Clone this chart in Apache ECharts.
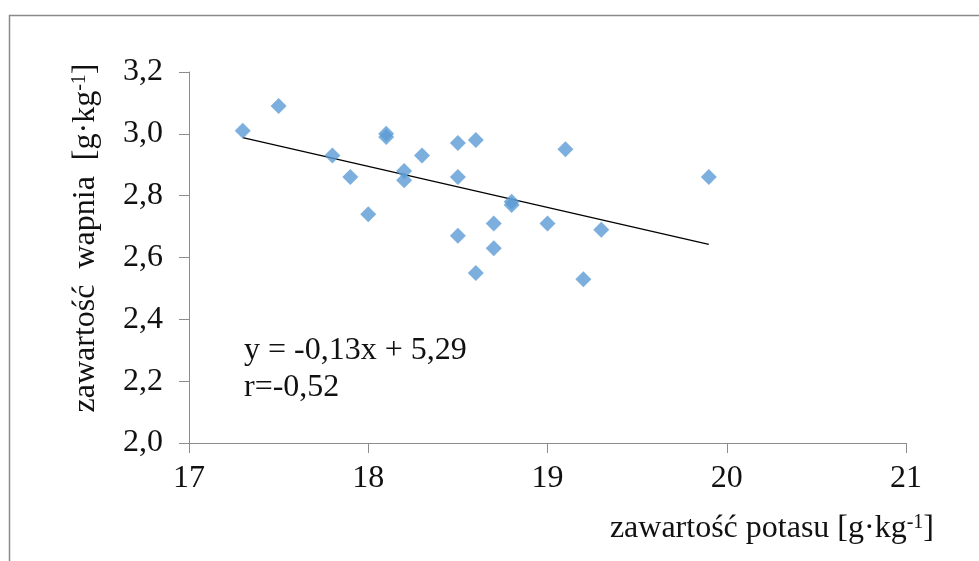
<!DOCTYPE html>
<html>
<head>
<meta charset="utf-8">
<script src="https://cdn.jsdelivr.net/npm/echarts@6/dist/echarts.min.js"></script>
<style>
html,body{margin:0;padding:0;background:#fff;}
#chart{width:979px;height:561px;}
</style>
</head>
<body>
<div id="chart"></div>
<script>
// Data
var potas = [17.3, 17.5, 17.8, 17.9, 18.0, 18.1, 18.1, 18.2, 18.2, 18.3, 18.5, 18.5, 18.5, 18.6, 18.6, 18.7, 18.7, 18.8, 18.8, 19.0, 19.1, 19.2, 19.3, 19.9];
var wapn  = [3.01, 3.09, 2.93, 2.86, 2.74, 3.00, 2.99, 2.88, 2.85, 2.93, 2.97, 2.86, 2.67, 2.98, 2.55, 2.71, 2.63, 2.78, 2.77, 2.71, 2.95, 2.53, 2.69, 2.86];
var xTicks = [17, 18, 19, 20, 21];
var yTicks = [2.0, 2.2, 2.4, 2.6, 2.8, 3.0, 3.2];
var eqText = 'y = -0,13x + 5,29';
var rText = 'r=-0,52';

// least-squares trend line from the data
var n = potas.length, sx = 0, sy = 0, sxx = 0, sxy = 0;
for (var i = 0; i < n; i++) { sx += potas[i]; sy += wapn[i]; sxx += potas[i]*potas[i]; sxy += potas[i]*wapn[i]; }
var slope = (n*sxy - sx*sy) / (n*sxx - sx*sx);
var icpt = (sy - slope*sx) / n;
var xmin = Math.min.apply(null, potas), xmax = Math.max.apply(null, potas);
var trend = [[xmin, icpt + slope*xmin], [xmax, icpt + slope*xmax]];

var pts = potas.map(function (x, i) { return [x, wapn[i]]; });
var FONT = '"Liberation Serif", "Times New Roman", serif';
var FS = 32;

var chart = echarts.init(document.getElementById('chart'), null, {renderer: 'canvas'});
chart.setOption({
  animation: false,
  backgroundColor: '#fff',
  grid: {left: 189, right: 73, top: 72, bottom: 118},
  xAxis: {
    type: 'value', min: xTicks[0], max: xTicks[xTicks.length-1], interval: 1,
    axisLine: {lineStyle: {color: '#8c8c8c', width: 1}},
    axisTick: {show: true, length: 10, lineStyle: {color: '#8c8c8c'}},
    splitLine: {show: false},
    axisLabel: {color: '#111', fontFamily: FONT, fontSize: FS, margin: 20}
  },
  yAxis: {
    type: 'value', min: yTicks[0], max: yTicks[yTicks.length-1], interval: 0.2,
    axisLine: {show: true, lineStyle: {color: '#8c8c8c', width: 1}},
    axisTick: {show: true, length: 10, lineStyle: {color: '#8c8c8c'}},
    splitLine: {show: false},
    axisLabel: {color: '#111', fontFamily: FONT, fontSize: FS, margin: 26,
      formatter: function (v) { return v.toFixed(1).replace('.', ','); }}
  },
  series: [
    {type: 'scatter', data: pts, symbol: 'diamond', symbolSize: 16,
     itemStyle: {color: '#5B9BD5'}, z: 3},
    {type: 'line', data: trend, showSymbol: false, symbol: 'none',
     lineStyle: {color: '#000', width: 1.2}, z: 2}
  ],
  graphic: [
    {type: 'rect', shape: {x: 9.5, y: 15.5, width: 1000, height: 600},
     style: {fill: 'none', stroke: '#8a8a8a', lineWidth: 1.5}, silent: true},
    {type: 'text', x: 86, y: 238, rotation: Math.PI/2,
     style: {text: '{a|zawartość  wapnia  [g·kg}{s|-1}{a|]}', align: 'center', verticalAlign: 'middle',
       rich: {a: {fontFamily: FONT, fontSize: FS, fill: '#111'},
              s: {fontFamily: FONT, fontSize: 20, fill: '#111', padding: [0, 0, 13, 0]}}}},
    {type: 'text', x: 934, y: 529,
     style: {text: '{a|zawartość potasu [g·kg}{s|-1}{a|]}', align: 'right', verticalAlign: 'middle',
       rich: {a: {fontFamily: FONT, fontSize: FS, fill: '#111'},
              s: {fontFamily: FONT, fontSize: 20, fill: '#111', padding: [0, 0, 13, 0]}}}},
    {type: 'text', x: 244, y: 351,
     style: {text: eqText, align: 'left', verticalAlign: 'middle', fontFamily: FONT, fontSize: FS, fill: '#111'}},
    {type: 'text', x: 244, y: 388,
     style: {text: rText, align: 'left', verticalAlign: 'middle', fontFamily: FONT, fontSize: FS, fill: '#111'}}
  ]
});
</script>
</body>
</html>
